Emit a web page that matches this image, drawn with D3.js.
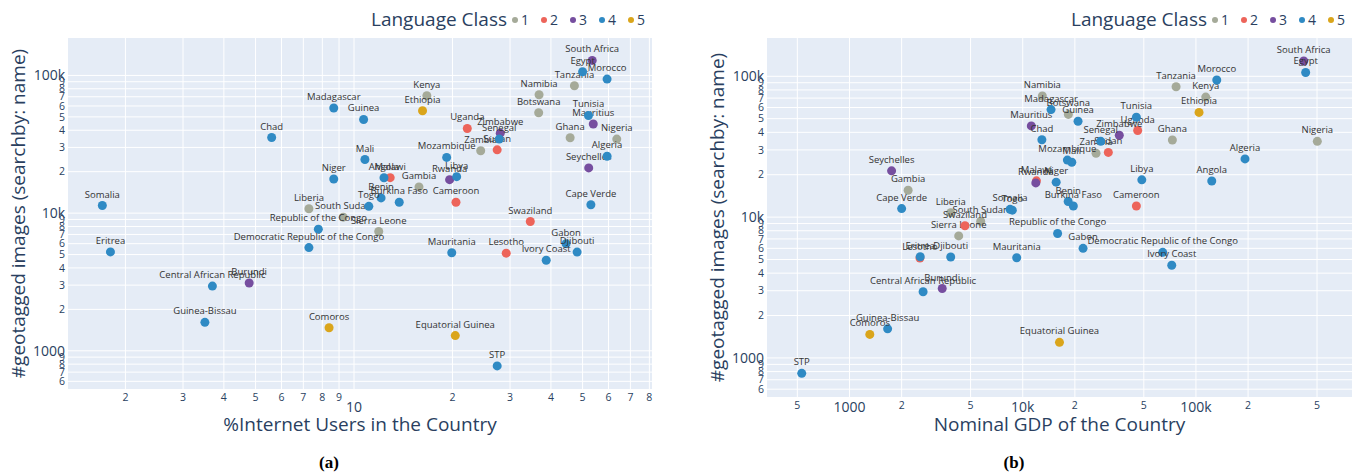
<!DOCTYPE html>
<html>
<head>
<meta charset="utf-8">
<script src="https://cdn.jsdelivr.net/npm/d3@7"></script>
<style>
	body { margin: 0; background: #fff; }
	text { font-family: "Open Sans", sans-serif; }
</style>
</head>
<body>
<svg id="chart" width="1361" height="474"></svg>
<script>
const countries = [
	"Somalia", "Eritrea", "Chad", "Madagascar", "Niger", "Liberia", "South Africa", "Egypt", "Tanzania",
	"Morocco", "Namibia", "Kenya", "Ethiopia", "Guinea", "Botswana", "Tunisia", "Mauritius", "Uganda",
	"Zimbabwe", "Senegal", "Zambia", "Sudan", "Ghana", "Nigeria", "Algeria", "Mozambique", "Mali",
	"Seychelles", "Angola", "Malawi", "Rwanda", "Libya", "Gambia", "Benin", "Togo", "Burkina Faso",
	"South Sudan", "Cameroon", "Cape Verde", "Sierra Leone", "Republic of the Congo",
	"Democratic Republic of the Congo", "Central African Republic", "Burundi", "Guinea-Bissau", "Comoros",
	"Swaziland", "Mauritania", "Lesotho", "Ivory Coast", "Gabon", "Djibouti", "Equatorial Guinea", "STP"
];
const languageClass = [
	4, 4, 4, 4, 4, 1, 3, 4, 1,
	4, 1, 1, 5, 4, 1, 4, 3, 2,
	3, 4, 1, 2, 1, 1, 4, 4, 4,
	3, 4, 2, 3, 4, 1, 4, 4, 4,
	1, 2, 4, 1, 4,
	4, 4, 3, 4, 5,
	2, 4, 2, 4, 4, 4, 5, 4
];
// % internet users
const internetUsers = [
	1.70, 1.80, 5.60, 8.67, 8.67, 7.28, 53.5, 50.0, 47.2,
	59.4, 36.8, 16.7, 16.2, 10.7, 36.7, 52.1, 53.9, 22.2,
	28.0, 27.8, 24.4, 27.4, 45.8, 63.6, 59.4, 19.2, 10.8,
	52.2, 12.35, 12.9, 19.6, 20.6, 15.8, 12.1, 11.1, 13.75,
	9.27, 20.5, 53.0, 11.9, 7.78,
	7.28, 3.69, 4.78, 3.50, 8.39,
	34.6, 19.9, 29.2, 38.7, 44.5, 48.1, 20.4, 27.4
];
// nominal GDP
const nominalGdp = [
	8450, 2560, 12900, 14570, 15600, 3840, 419000, 430000, 76800,
	131900, 12980, 113900, 104200, 20860, 18340, 45300, 11210, 46100,
	36100, 28200, 26500, 31200, 73100, 502000, 192000, 18100, 19200,
	1750, 123400, 12000, 11900, 48700, 2180, 18300, 8710, 19600,
	5720, 45300, 2000, 4270, 15900,
	64300, 2660, 3430, 1660, 1310,
	4640, 9230, 2550, 72500, 22300, 3840, 16300, 530
];
// #geotagged images
const geotaggedImages = [
	11350, 5230, 35400, 58000, 17700, 10750, 128500, 106400, 84200,
	94100, 72400, 71200, 55400, 47900, 53600, 51200, 44400, 41200,
	38100, 34500, 28400, 28800, 35300, 34500, 25900, 25400, 24500,
	21300, 18050, 18100, 17500, 18400, 15500, 12900, 11200, 12000,
	9350, 12000, 11500, 7350, 7650,
	5620, 2950, 3110, 1610, 1470,
	8690, 5150, 5120, 4550, 6000, 5210, 1290, 777
];

const classes = [1, 2, 3, 4, 5];
const classColors = ["rgb(165,170,153)", "rgb(237,100,90)", "rgb(118,78,159)", "rgb(47,138,196)", "rgb(218,165,27)"];

const pctTicks = [2, 3, 4, 5, 6, 7, 8, 9, 10, 20, 30, 40, 50, 60, 70, 80];
const pctTickLabels = ["2", "3", "4", "5", "6", "7", "8", "9", "10", "2", "3", "4", "5", "6", "7", "8"];
const gdpTicks = [500, 1000, 2000, 5000, 10000, 20000, 50000, 100000, 200000, 500000];
const gdpTickLabels = ["5", "1000", "2", "5", "10k", "2", "5", "100k", "2", "5"];
const imgTicks = [600, 700, 800, 900, 1000, 2000, 3000, 4000, 5000, 6000, 7000, 8000, 9000,
	10000, 20000, 30000, 40000, 50000, 60000, 70000, 80000, 90000, 100000];
const imgTickLabels = ["6", "7", "8", "9", "1000", "2", "3", "4", "5", "6", "7", "8", "9",
	"10k", "2", "3", "4", "5", "6", "7", "8", "9", "100k"];

const pctDomain = [1.335, 81.5];
const gdpDomain = [334, 796000];
const imgDomain = [528, 187000];

const data = countries.map((name, i) => ({
	name,
	cls: languageClass[i],
	pct: internetUsers[i],
	gdp: nominalGdp[i],
	img: geotaggedImages[i]
}));

const axisColor = "#2a3f5f";
const svg = d3.select("#chart");

function drawPanel(p) {
	const x = d3.scaleLog().domain(p.xDomain).range([p.left, p.right]);
	const y = d3.scaleLog().domain(imgDomain).range([p.bottom, p.top]);
	const g = svg.append("g");

	g.append("rect")
		.attr("x", p.left)
		.attr("y", p.top)
		.attr("width", p.right - p.left)
		.attr("height", p.bottom - p.top)
		.attr("fill", "#e5ecf6");

	// grid
	g.selectAll(".xgrid")
		.data(p.xTicks)
		.join("line")
		.attr("x1", (d) => x(d))
		.attr("x2", (d) => x(d))
		.attr("y1", p.top)
		.attr("y2", p.bottom)
		.attr("stroke", "#fff")
		.attr("stroke-width", 1);

	g.selectAll(".ygrid")
		.data(imgTicks)
		.join("line")
		.attr("x1", p.left)
		.attr("x2", p.right)
		.attr("y1", (d) => y(d))
		.attr("y2", (d) => y(d))
		.attr("stroke", "#fff")
		.attr("stroke-width", 1);

	// tick labels
	g.selectAll(".xlabel")
		.data(p.xTicks)
		.join("text")
		.attr("x", (d) => x(d))
		.attr("y", (d, i) => p.xTickLabels[i].length > 1 ? p.bottom + p.majorDy : p.bottom + 12)
		.attr("text-anchor", "middle")
		.style("font-size", (d, i) => p.xTickLabels[i].length > 1 ? "14px" : "10.5px")
		.style("fill", axisColor)
		.text((d, i) => p.xTickLabels[i]);

	g.selectAll(".ylabel")
		.data(imgTicks)
		.join("text")
		.attr("x", p.left - 3)
		.attr("y", (d) => y(d))
		.attr("dy", "0.35em")
		.attr("text-anchor", "end")
		.style("font-size", (d, i) => imgTickLabels[i].length > 1 ? "14px" : "10.5px")
		.style("fill", axisColor)
		.text((d, i) => imgTickLabels[i]);

	// axis titles
	g.append("text")
		.attr("x", (p.left + p.right) / 2)
		.attr("y", 431)
		.attr("text-anchor", "middle")
		.style("font-size", "19px")
		.style("fill", axisColor)
		.text(p.xTitle);

	g.append("text")
		.attr("transform", `translate(${p.yTitleX},${(p.top + p.bottom) / 2}) rotate(-90)`)
		.attr("text-anchor", "middle")
		.style("font-size", "19px")
		.style("fill", axisColor)
		.text("#geotagged images (searchby: name)");

	// one group per language class, markers then text
	classes.forEach((c, ci) => {
		const rows = data.filter((d) => d.cls === c);
		const tg = g.append("g");
		tg.selectAll("circle")
			.data(rows)
			.join("circle")
			.attr("cx", (d) => x(d[p.xKey]))
			.attr("cy", (d) => y(d.img))
			.attr("r", 4.5)
			.attr("fill", classColors[ci]);
		tg.selectAll("text")
			.data(rows)
			.join("text")
			.attr("x", (d) => x(d[p.xKey]))
			.attr("y", (d) => y(d.img) - 8)
			.attr("text-anchor", "middle")
			.style("font-size", "9.5px")
			.style("fill", "#333")
			.text((d) => d.name);
	});

	// legend
	const lg = g.append("g");
	const startX = p.right - 137;
	lg.append("text")
		.attr("x", startX - 8)
		.attr("y", 26)
		.attr("text-anchor", "end")
		.style("font-size", "19px")
		.style("fill", axisColor)
		.text("Language Class");
	classes.forEach((c, i) => {
		lg.append("circle")
			.attr("cx", startX + i * 29)
			.attr("cy", 20)
			.attr("r", 3)
			.attr("fill", classColors[i]);
		lg.append("text")
			.attr("x", startX + i * 29 + 6)
			.attr("y", 25)
			.style("font-size", "14px")
			.style("fill", axisColor)
			.text(c);
	});

	// caption
	g.append("text")
		.attr("x", p.captionX)
		.attr("y", 468)
		.attr("text-anchor", "middle")
		.style("font-family", "'Liberation Serif', serif")
		.style("font-weight", "bold")
		.style("font-size", "17px")
		.style("fill", "#000")
		.text(p.caption);
}

drawPanel({
	left: 68, right: 652, top: 38, bottom: 389,
	xDomain: pctDomain, xKey: "pct",
	xTicks: pctTicks, xTickLabels: pctTickLabels, majorDy: 23,
	xTitle: "%Internet Users in the Country",
	yTitleX: 25, caption: "(a)", captionX: 329
});

drawPanel({
	left: 767, right: 1352, top: 38, bottom: 397,
	xDomain: gdpDomain, xKey: "gdp",
	xTicks: gdpTicks, xTickLabels: gdpTickLabels, majorDy: 15,
	xTitle: "Nominal GDP of the Country",
	yTitleX: 724, caption: "(b)", captionX: 1014
});
</script>
</body>
</html>
